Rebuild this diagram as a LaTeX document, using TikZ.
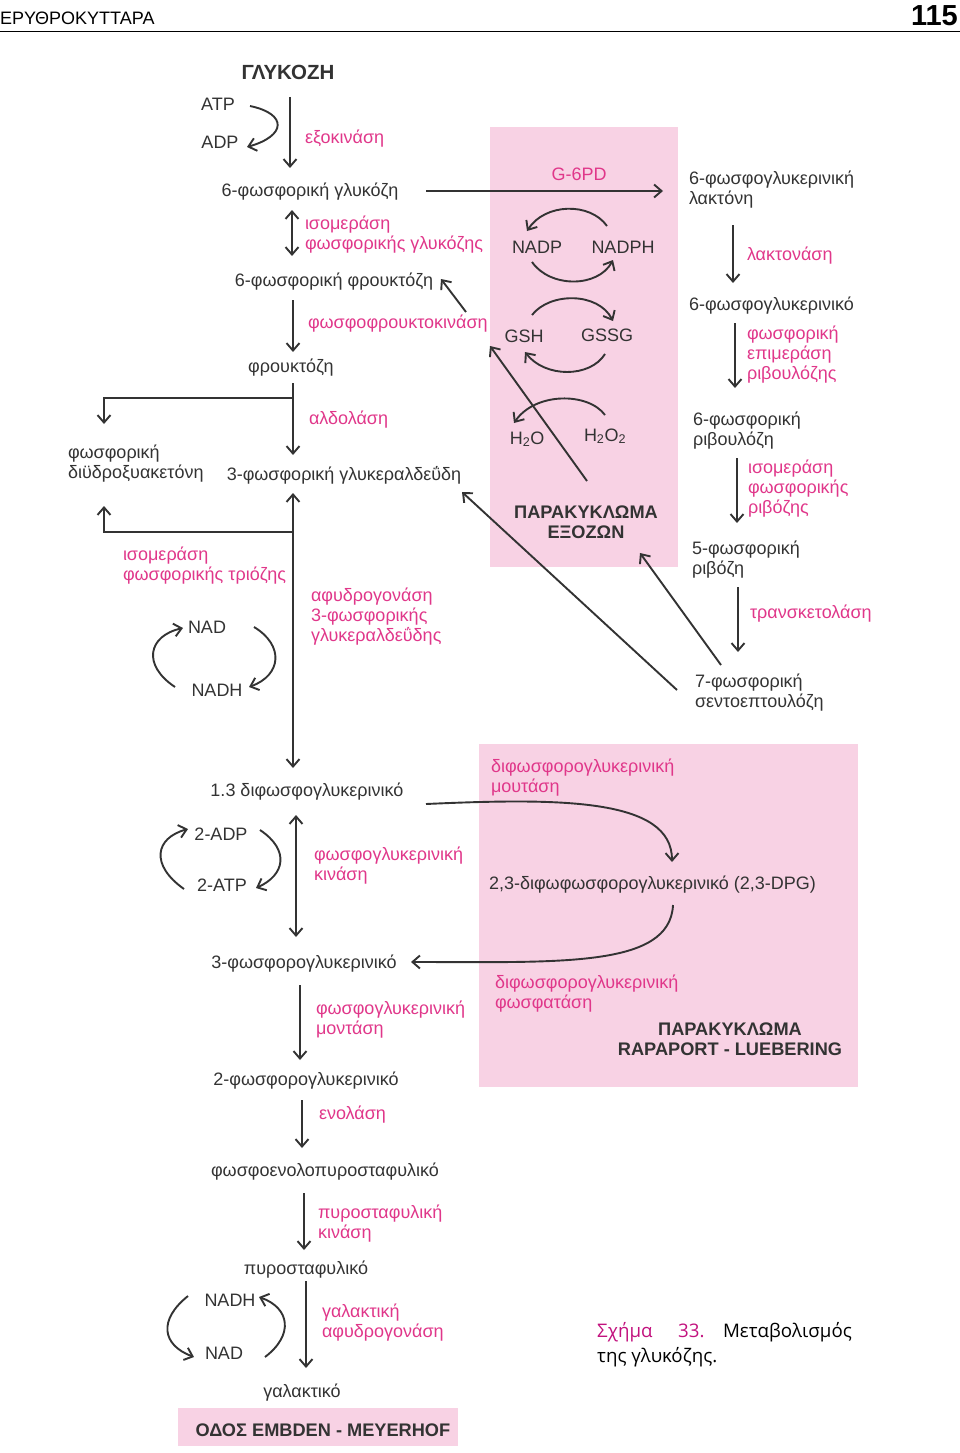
\documentclass[tikz,border=0pt]{standalone}
\usepackage{fontspec}
\setmainfont{Liberation Sans}
\newfontfamily\capfont{Open Sans}
\usetikzlibrary{arrows.meta}
\definecolor{txt}{HTML}{333333}
\definecolor{mag}{HTML}{E0378A}
\definecolor{pinkbg}{HTML}{F8D2E4}
\definecolor{capmag}{HTML}{C2127E}
\tikzset{
 txtbase/.style={inner sep=0pt, outer sep=0pt, font=\fontsize{18}{20}\selectfont},
 blk/.style={txtbase, text=txt},
 enz/.style={txtbase, text=mag},
 bld/.style={inner sep=0pt, outer sep=0pt, font=\fontsize{18.2}{20}\selectfont\bfseries, text=txt},
 ml/.style={align=left, anchor=north west},
 tip/.tip={Straight Barb[length=7.5pt,width=13pt]},
 arr/.style={draw=txt, line width=1.9pt, -tip},
 dbl/.style={draw=txt, line width=1.9pt, tip-tip},
 capt/.style={inner sep=0pt, font=\capfont\fontsize{18.7}{24}\selectfont},
}
\begin{document}
\begin{tikzpicture}[x=1pt,y=-1pt]
\useasboundingbox (0,0) rectangle (960,1453);
% pink areas
\fill[pinkbg] (490,127) rectangle (678,567);
\fill[pinkbg] (479,744) rectangle (858,1087);
\fill[pinkbg] (178,1408) rectangle (458,1446);
% header
\node[inner sep=0pt, anchor=base west, font=\fontsize{18}{20}\selectfont, text=black] (hdr) at (0,25) {ΕΡΥΘΡΟΚΥΤΤΑΡΑ};
\node[inner sep=0pt, anchor=base east, font=\fontsize{29}{30}\selectfont\bfseries, text=black] (pgno) at (958,26) {115};
\coordinate (rl) at (0,31.5); \coordinate (rr) at (960,31.5);
\draw[line width=1pt] (rl) -- (rr);

% ---------- glycolysis ----------
\node[bld, anchor=base, font=\fontsize{20.5}{22}\selectfont\bfseries] (glc) at (288,80) {ΓΛΥΚΟΖΗ};
\node[blk, anchor=base] (atp) at (218,111) {ATP};
\node[blk, anchor=base] (adp) at (220,149) {ADP};
\node[enz, anchor=base west] (hk) at (305,143) {εξοκινάση};
\node[blk, anchor=base] (g6p) at (310,196) {6-φωσφορική γλυκόζη};
\node[enz, ml] (pgi) at (305,216) {ισομεράση\\φωσφορικής γλυκόζης};
\node[blk, anchor=base] (f6p) at (334,286) {6-φωσφορική φρουκτόζη};
\node[enz, anchor=base west] (pfk) at (308,328) {φωσφοφρουκτοκινάση};
\node[blk, anchor=base] (frc) at (291,372) {φρουκτόζη};
\node[enz, anchor=base west] (ald) at (309,424) {αλδολάση};
\node[blk, ml] (dhap) at (68,445) {φωσφορική\\διϋδροξυακετόνη};
\node[blk, anchor=base] (g3p) at (344,480) {3-φωσφορική γλυκεραλδεΰδη};
\node[enz, ml] (tpi) at (123,547) {ισομεράση\\φωσφορικής τριόζης};
\node[enz, ml] (gapdh) at (311,588) {αφυδρογονάση\\3-φωσφορικής\\γλυκεραλδεΰδης};
\node[blk, anchor=base] (nad1) at (207,633) {NAD};
\node[blk, anchor=base] (nadh1) at (217,696) {NADH};
\node[blk, anchor=base] (bpg) at (307,796) {1.3 διφωσφογλυκερινικό};
\node[blk, anchor=base] (adp2) at (221,840) {2-ADP};
\node[blk, anchor=base] (atp2) at (222,891) {2-ATP};
\node[enz, ml] (pgk) at (314,847) {φωσφογλυκερινική\\κινάση};
\node[blk, anchor=base] (pg3) at (304,968) {3-φωσφορογλυκερινικό};
\node[enz, ml] (pgm) at (316,1001) {φωσφογλυκερινική\\μοντάση};
\node[blk, anchor=base] (pg2) at (306,1085) {2-φωσφορογλυκερινικό};
\node[enz, anchor=base west] (eno) at (319,1119) {ενολάση};
\node[blk, anchor=base] (pep) at (325,1176) {φωσφοενολοπυροσταφυλικό};
\node[enz, ml] (pk) at (318,1205) {πυροσταφυλική\\κινάση};
\node[blk, anchor=base] (pyr) at (306,1274) {πυροσταφυλικό};
\node[blk, anchor=base] (nadh2) at (230,1306) {NADH};
\node[blk, anchor=base] (nad2) at (224,1359) {NAD};
\node[enz, ml] (ldh) at (322,1304) {γαλακτική\\αφυδρογονάση};
\node[blk, anchor=base] (lac) at (302,1397) {γαλακτικό};
\node[bld, anchor=base] (emb) at (323,1436) {ΟΔΟΣ EMBDEN - MEYERHOF};

% ---------- pentose ----------
\node[enz, anchor=base] (g6pd) at (579,180) {G-6PD};
\node[blk, ml] (lacton) at (689,171) {6-φωσφογλυκερινική\\λακτόνη};
\node[blk, anchor=base] (nadp) at (537,253) {NADP};
\node[blk, anchor=base] (nadph) at (623,253) {NADPH};
\node[enz, anchor=base west] (lactase) at (747,260) {λακτονάση};
\node[blk, anchor=base west] (pgl6) at (689,310) {6-φωσφογλυκερινικό};
\node[enz, ml] (epi) at (747,326) {φωσφορική\\επιμεράση\\ριβουλόζης};
\node[blk, anchor=base] (gsh) at (524,342) {GSH};
\node[blk, anchor=base] (gssg) at (607,341) {GSSG};
\node[blk, anchor=base] (h2o) at (527,444) {H\textsubscript{2}O};
\node[blk, anchor=base] (h2o2) at (605,441) {H\textsubscript{2}O\textsubscript{2}};
\node[blk, ml] (ru5p) at (693,412) {6-φωσφορική\\ριβουλόζη};
\node[enz, ml] (rpi) at (748,460) {ισομεράση\\φωσφορικής\\ριβόζης};
\node[bld, align=center, anchor=north] (hmp) at (586,506) {ΠΑΡΑΚΥΚΛΩΜΑ\\ΕΞΟΖΩΝ};
\node[blk, ml] (r5p) at (692,541) {5-φωσφορική\\ριβόζη};
\node[enz, anchor=base west] (tk) at (750,618) {τρανσκετολάση};
\node[blk, ml] (s7p) at (695,674) {7-φωσφορική\\σεντοεπτουλόζη};

% ---------- Rapaport-Luebering ----------
\node[enz, ml] (mut) at (491,759) {διφωσφορογλυκερινική\\μουτάση};
\node[blk, anchor=base west] (dpg) at (489,889) {2,3-διφωφωσφορογλυκερινικό (2,3-DPG)};
\node[enz, ml] (pase) at (495,975) {διφωσφορογλυκερινική\\φωσφατάση};
\node[bld, align=center, anchor=north] (rlb) at (730,1023) {ΠΑΡΑΚΥΚΛΩΜΑ\\RAPAPORT - LUEBERING};

% caption
\node[capt, anchor=base west, text=capmag] (cap1) at (597,1337) {Σχήμα};
\node[capt, anchor=base west, text=capmag] (cap2) at (678,1337) {33.};
\node[capt, anchor=base east, text=black] (cap3) at (852,1337) {Μεταβολισμός};
\node[capt, anchor=base west, text=black] (cap4) at (597,1362) {της γλυκόζης.};

% ---------- connectors: glycolysis ----------
\coordinate (hkA) at (290,97); \coordinate (hkB) at (290,168);
\draw[arr] (hkA) -- (hkB);
\coordinate (atpE) at (250,106); \coordinate (adpE) at (247,147);
\draw[arr] (atpE) .. controls (288,114) and (286,136) .. (adpE);
\coordinate (pgiA) at (292,210); \coordinate (pgiB) at (292,256);
\draw[dbl] (pgiA) -- (pgiB);
\coordinate (pfkA) at (293,300); \coordinate (pfkB) at (293,352);
\draw[arr] (pfkA) -- (pfkB);
\coordinate (fbA) at (466,312); \coordinate (fbB) at (441,279);
\draw[arr] (fbA) -- (fbB);
\coordinate (aldA) at (293,383); \coordinate (aldJ) at (293,398);
\coordinate (aldB) at (293,455); \coordinate (aldL) at (104,398); \coordinate (aldD) at (104,424);
\draw[arr] (aldA) -- (aldB);
\draw[arr] (aldJ) -- (aldL) -- (aldD);
\coordinate (tpJ) at (293,532); \coordinate (tpU) at (293,493); \coordinate (tpL) at (104,532); \coordinate (tpD) at (104,506);
\draw[arr] (tpJ) -- (tpU);
\draw[arr] (tpJ) -- (tpL) -- (tpD);
\coordinate (gapB) at (293,768);
\draw[arr] (tpJ) -- (gapB);
\coordinate (nadL) at (175,687); \coordinate (nadT) at (183,628);
\draw[arr] (nadL) .. controls (142,665) and (148,636) .. (nadT);
\coordinate (nadR) at (254,627); \coordinate (nadhR) at (249,687);
\draw[arr] (nadR) .. controls (284,645) and (282,675) .. (nadhR);
% phosphoglycerate kinase
\coordinate (pgkA) at (296,815); \coordinate (pgkB) at (296,937);
\draw[dbl] (pgkA) -- (pgkB);
\coordinate (atL) at (184,889); \coordinate (adT) at (188,829);
\draw[arr] (atL) .. controls (150,865) and (155,838) .. (adT);
\coordinate (adR) at (260,830); \coordinate (atR) at (256,888);
\draw[arr] (adR) .. controls (290,850) and (285,875) .. (atR);
% Rapaport curves
\coordinate (rpA) at (426,804); \coordinate (rpB) at (672,862);
\draw[arr] (rpA) .. controls (560,798) and (672,798) .. (rpB);
\coordinate (rpC) at (673,905); \coordinate (rpD) at (411,962);
\draw[arr] (rpC) .. controls (670,968) and (560,962) .. (rpD);
% lower glycolysis
\coordinate (pgmA) at (300,985); \coordinate (pgmB) at (300,1060);
\draw[arr] (pgmA) -- (pgmB);
\coordinate (enoA) at (302,1100); \coordinate (enoB) at (302,1148);
\draw[arr] (enoA) -- (enoB);
\coordinate (pkA) at (304,1193); \coordinate (pkB) at (304,1250);
\draw[arr] (pkA) -- (pkB);
\coordinate (ldhA) at (306,1281); \coordinate (ldhB) at (306,1368);
\draw[arr] (ldhA) -- (ldhB);
\coordinate (n2L) at (188,1296); \coordinate (n2B) at (194,1357);
\draw[arr] (n2L) .. controls (158,1320) and (162,1345) .. (n2B);
\coordinate (n2R) at (265,1357); \coordinate (n2T) at (259,1297);
\draw[arr] (n2R) .. controls (294,1335) and (290,1308) .. (n2T);

% ---------- connectors: pentose ----------
\coordinate (g6A) at (426,191); \coordinate (g6B) at (663,191);
\draw[arr] (g6A) -- (g6B);
\coordinate (npA) at (607,226); \coordinate (npB) at (527,231);
\draw[arr] (npA) .. controls (590,202) and (545,203) .. (npB);
\coordinate (npC) at (532,262); \coordinate (npD) at (613,260);
\draw[arr] (npC) .. controls (550,288) and (598,288) .. (npD);
\coordinate (gsA) at (532,315); \coordinate (gsB) at (613,321);
\draw[arr] (gsA) .. controls (550,292) and (598,292) .. (gsB);
\coordinate (gsC) at (605,354); \coordinate (gsD) at (525,352);
\draw[arr] (gsC) .. controls (590,378) and (545,378) .. (gsD);
\coordinate (hoA) at (605,415); \coordinate (hoB) at (514,423);
\draw[arr] (hoA) .. controls (588,392) and (535,392) .. (hoB);
\coordinate (lgA) at (587,481); \coordinate (lgB) at (490,346);
\draw[arr] (lgA) -- (lgB);
\coordinate (lcA) at (733,225); \coordinate (lcB) at (733,283);
\draw[arr] (lcA) -- (lcB);
\coordinate (epA) at (735,323); \coordinate (epB) at (735,388);
\draw[arr] (epA) -- (epB);
\coordinate (riA) at (737,458); \coordinate (riB) at (737,523);
\draw[arr] (riA) -- (riB);
\coordinate (tkA) at (738,587); \coordinate (tkB) at (738,652);
\draw[arr] (tkA) -- (tkB);
\coordinate (s7A) at (721,665); \coordinate (s7B) at (640,553);
\draw[arr] (s7A) -- (s7B);
\coordinate (s7C) at (677,690); \coordinate (s7D) at (462,492);
\draw[arr] (s7C) -- (s7D);
\end{tikzpicture}
\end{document}
